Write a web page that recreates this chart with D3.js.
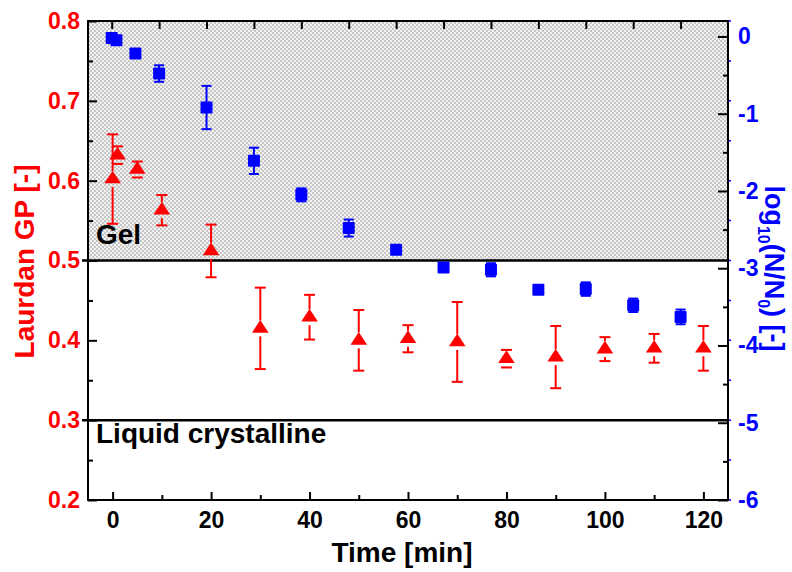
<!DOCTYPE html>
<html><head><meta charset="utf-8">
<script src="https://cdn.jsdelivr.net/npm/d3@7"></script>
<style>body{margin:0;background:#fff}svg{display:block}text{font-family:"Liberation Sans",Arial,sans-serif;font-weight:bold}</style>
</head><body><svg id="c" width="792" height="572"></svg>
<script>
// Laurdan GP (red triangles, bottom time axis, left scale)
const gpTime = [0, 1, 5, 10, 20, 30, 40, 50, 60, 70, 80, 90, 100, 110, 120];
const gpValue = [0.602, 0.632, 0.614, 0.563, 0.512, 0.415, 0.429, 0.400, 0.402, 0.398, 0.377, 0.379, 0.389, 0.390, 0.390];
const gpError = [0.056, 0.011, 0.010, 0.019, 0.033, 0.051, 0.028, 0.038, 0.017, 0.050, 0.011, 0.039, 0.015, 0.018, 0.028];
// log10(N/N0) (blue squares, top axis units, right scale)
const survX = [0, 0.1, 0.5, 1, 2, 3, 4, 5, 6, 7, 8, 9, 10, 11, 12];
const survValue = [-0.02, -0.05, -0.22, -0.48, -0.92, -1.61, -2.05, -2.48, -2.76, -2.99, -3.02, -3.28, -3.27, -3.48, -3.63];
const survError = [0.03, 0.03, 0.05, 0.107, 0.28, 0.17, 0.084, 0.11, 0.05, 0.05, 0.085, 0.05, 0.087, 0.087, 0.095];
// tick labels
const xTicks = [0, 20, 40, 60, 80, 100, 120];
const xMinor = [10, 30, 50, 70, 90, 110];
const topTicks = [0, 1, 2, 3, 4, 5, 6, 7, 8, 9, 10, 11, 12];
const yLTicks = [0.2, 0.3, 0.4, 0.5, 0.6, 0.7, 0.8];
const yLMinor = [0.25, 0.35, 0.45, 0.55, 0.65, 0.75];
const yRTicks = [-6, -5, -4, -3, -2, -1, 0];
const yRMinor = [-5.5, -4.5, -3.5, -2.5, -1.5, -0.5];
const phaseBounds = [0.5, 0.3];
const phaseLabels = ["Gel", "Liquid crystalline"];

const L = 88, R = 728, T = 21, B = 500;
const svg = d3.select("#c");
const x = d3.scaleLinear([-5, 125], [L, R]);
const xT = d3.scaleLinear([-0.5, 13], [L, R]);
const yL = d3.scaleLinear([0.2, 0.8], [B, T]);
const yR = d3.scaleLinear([-6, 0.2], [B, T]);
const RED = "#ff0000", BLUE = "#0000ff";
const FS = 23;

// hatch pattern
const defs = svg.append("defs");
const pat = defs.append("pattern").attr("id", "hatch").attr("patternUnits", "userSpaceOnUse")
  .attr("width", 4).attr("height", 4);
pat.append("rect").attr("width", 4).attr("height", 4).attr("fill", "#f2f2f2");
pat.append("rect").attr("x", 0).attr("y", 0).attr("width", 2).attr("height", 2).attr("fill", "#c6c6c6");
pat.append("rect").attr("x", 2).attr("y", 2).attr("width", 2).attr("height", 2).attr("fill", "#c6c6c6");

svg.append("rect").attr("x", L).attr("y", yL(0.8)).attr("width", R - L)
  .attr("height", yL(phaseBounds[0]) - yL(0.8)).attr("fill", "url(#hatch)");

// phase boundary lines
svg.selectAll("line.phase").data(phaseBounds).join("line").attr("class", "phase")
  .attr("x1", L - 6).attr("x2", R).attr("y1", d => yL(d)).attr("y2", d => yL(d))
  .attr("stroke", "#000").attr("stroke-width", 2.5);
svg.append("text").attr("x", 96).attr("y", yL(phaseBounds[0]) - 17).attr("font-size", 28).text(phaseLabels[0]);
svg.append("text").attr("x", 96).attr("y", yL(phaseBounds[1]) + 23).attr("font-size", 28).text(phaseLabels[1]);

// axes
function style(g, color, fs) {
  g.select(".domain").remove();
  g.selectAll(".tick line").attr("stroke", "#000").attr("stroke-width", 2);
  g.selectAll("text").attr("fill", color).attr("font-size", fs)
    .attr("font-family", "Liberation Sans, Arial, sans-serif").attr("font-weight", "bold");
}
const fmtH = d => String(d).replace("\u2212", "-");
svg.append("g").attr("transform", `translate(${L},0)`)
  .call(d3.axisLeft(yL).tickValues(yLTicks).tickSize(-9).tickPadding(8).tickFormat(d3.format(".1f")))
  .call(g => style(g, RED, FS));
svg.append("g").attr("transform", `translate(${L},0)`)
  .call(d3.axisLeft(yL).tickValues(yLMinor).tickSize(-5).tickFormat(""))
  .call(g => style(g, RED, FS));
svg.append("g").attr("transform", `translate(${R},0)`)
  .call(d3.axisRight(yR).tickValues(yRTicks).tickSize(-10).tickPadding(10).tickFormat(d => fmtH(d)))
  .call(g => style(g, BLUE, FS));
svg.append("g").attr("transform", `translate(${R},0)`)
  .call(d3.axisRight(yR).tickValues(yRMinor).tickSize(-5).tickFormat(""))
  .call(g => style(g, BLUE, FS));
// small blue marks outside the right axis at left-scale positions
svg.append("g").selectAll("line").data(yLTicks.concat(yLMinor)).join("line")
  .attr("x1", R + 1).attr("x2", R + 3).attr("y1", d => yL(d)).attr("y2", d => yL(d))
  .attr("stroke", BLUE).attr("stroke-width", 1.5);
svg.append("g").attr("transform", `translate(0,${B})`)
  .call(d3.axisBottom(x).tickValues(xTicks).tickSize(-8).tickPadding(12))
  .call(g => style(g, "#000", FS));
svg.append("g").attr("transform", `translate(0,${B})`)
  .call(d3.axisBottom(x).tickValues(xMinor).tickSize(-5).tickFormat(""))
  .call(g => style(g, "#000", FS));
svg.append("g").attr("transform", `translate(0,${T})`)
  .call(d3.axisTop(xT).tickValues(topTicks).tickSize(-8).tickFormat(""))
  .call(g => style(g, "#000", FS));

// frame
svg.append("rect").attr("x", L).attr("y", T).attr("width", R - L).attr("height", B - T)
  .attr("fill", "none").attr("stroke", "#000").attr("stroke-width", 2);

// axis titles
svg.append("text").attr("transform", `translate(34,${(T + B) / 2 + 1}) rotate(-90)`)
  .attr("text-anchor", "middle").attr("font-size", 28).attr("fill", RED).text("Laurdan GP [-]");
const rt = svg.append("text").attr("transform", `translate(765,${(T + B) / 2 + 8}) rotate(90)`)
  .attr("text-anchor", "middle").attr("font-size", 27).attr("fill", BLUE);
rt.append("tspan").text("log");
rt.append("tspan").attr("font-size", 16).attr("dy", 7).text("10");
rt.append("tspan").attr("dy", -7).text("(N/N");
rt.append("tspan").attr("font-size", 16).attr("dy", 7).text("0");
rt.append("tspan").attr("dy", -7).text(") [-]");
svg.append("text").attr("x", (L + R) / 2 - 6).attr("y", 562).attr("text-anchor", "middle")
  .attr("font-size", 28).attr("fill", "#000").text("Time [min]");

// blue series
const blue = survX.map((d, i) => ({ x: d, y: survValue[i], e: survError[i] }));
const gb = svg.append("g");
blue.forEach(d => {
  const cx = xT(d.x), cy = yR(d.y), y1 = yR(d.y + d.e), y2 = yR(d.y - d.e);
  gb.append("line").attr("x1", cx).attr("x2", cx).attr("y1", y1).attr("y2", y2).attr("stroke", BLUE).attr("stroke-width", 2);
  [y1, y2].forEach(yy => gb.append("line").attr("x1", cx - 5).attr("x2", cx + 5).attr("y1", yy).attr("y2", yy).attr("stroke", BLUE).attr("stroke-width", 2));
  gb.append("rect").attr("x", cx - 6).attr("y", cy - 6).attr("width", 12).attr("height", 12).attr("rx", 1).attr("fill", BLUE);
});

// red series
const red = gpTime.map((d, i) => ({ x: d, y: gpValue[i], e: gpError[i] }));
const gr = svg.append("g");
red.forEach(d => {
  const cx = x(d.x), cy = yL(d.y), y1 = yL(d.y + d.e), y2 = yL(d.y - d.e);
  if (cy - y1 > 8) gr.append("line").attr("x1", cx).attr("x2", cx).attr("y1", y1).attr("y2", cy - 8).attr("stroke", RED).attr("stroke-width", 2);
  if (y2 - cy > 8) gr.append("line").attr("x1", cx).attr("x2", cx).attr("y1", cy + 8).attr("y2", y2).attr("stroke", RED).attr("stroke-width", 2);
  [y1, y2].forEach(yy => gr.append("line").attr("x1", cx - 5.5).attr("x2", cx + 5.5).attr("y1", yy).attr("y2", yy).attr("stroke", RED).attr("stroke-width", 2));
  gr.append("path").attr("transform", `translate(${cx},${cy})`).attr("d", "M0,-8.4L8.3,4.3L-8.3,4.3Z").attr("fill", RED);
});
</script></body></html>
